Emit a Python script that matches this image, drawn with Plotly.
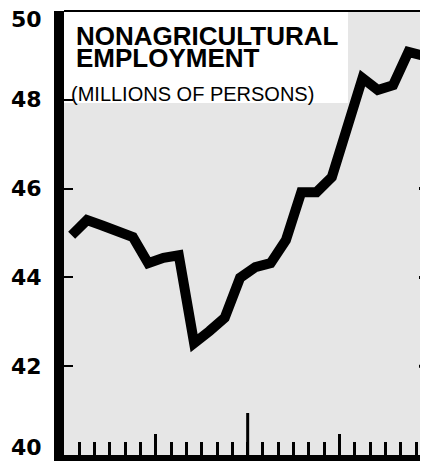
import plotly.graph_objects as go

# Nonagricultural employment, millions of persons, 24 monthly readings
months = list(range(24))
employment = [44.95, 45.29, 45.17, 45.05, 44.91, 44.32, 44.44, 44.50,
              42.52, 42.79, 43.09, 43.99, 44.23, 44.32, 44.84, 45.92,
              45.92, 46.26, 47.36, 48.49, 48.22, 48.33, 49.08, 48.99]

y_ticks = [40, 42, 44, 46, 48, 50]
y_labels = ["40", "42", "44", "46", "48", "50"]
right_ticks = [42, 44, 46]
month_bounds = [m + 0.5 for m in months[:-1]]
half_year_marks = [5.5, 17.5]
year_mark = 11.5

# the page body keeps its default 8px margin, so the figure is shrunk by that
OFF = 8
W, H = 428 - OFF, 462 - OFF
M = dict(l=64 - OFF, r=0, t=11 - OFF, b=7)
PW, PH = W - M["l"] - M["r"], H - M["t"] - M["b"]


def px_x(x):
    # page pixel -> paper fraction
    return (x - OFF - M["l"]) / PW


def px_y(y):
    return 1 - (y - OFF - M["t"]) / PH


fig = go.Figure()

fig.add_trace(go.Scatter(
    x=months, y=employment,
    mode="lines",
    line=dict(color="black", width=10),
    hoverinfo="skip", showlegend=False,
))

# white box behind the title
fig.add_shape(type="rect", xref="paper", yref="paper",
              x0=0, x1=px_x(348), y0=px_y(103), y1=1,
              fillcolor="white", line_width=0, layer="below")
# thin top frame
fig.add_shape(type="line", xref="paper", yref="paper",
              x0=0, x1=1, y0=1, y1=1, line=dict(color="black", width=2))
# tall year tick on the bottom axis
fig.add_shape(type="line", xref="x", yref="paper",
              x0=year_mark, x1=year_mark, y0=0, y1=42 / PH,
              line=dict(color="black", width=3))
# short ticks along the right edge
for v in right_ticks:
    fig.add_shape(type="line", xref="paper", yref="y",
                  x0=1 - 9 / PW, x1=1, y0=v, y1=v,
                  line=dict(color="black", width=3))

# y labels (the end ones sit a little inside the frame)
label_shift = {40: 8, 50: -8}
for v, t in zip(y_ticks, y_labels):
    fig.add_annotation(text=t, xref="paper", yref="y", x=px_x(44), y=v,
                       xanchor="right", yanchor="middle", showarrow=False,
                       yshift=label_shift.get(v, 0),
                       font=dict(family="DejaVu Sans", size=22, color="black",
                                 weight="bold"))

title_font = "Liberation Sans"
fig.add_annotation(text="<b>NONAGRICULTURAL</b>", xref="paper", yref="paper",
                   x=px_x(74), y=px_y(19), xanchor="left", yanchor="top",
                   showarrow=False, font=dict(family=title_font, size=26, color="black"))
fig.add_annotation(text="<b>EMPLOYMENT</b>", xref="paper", yref="paper",
                   x=px_x(74), y=px_y(41), xanchor="left", yanchor="top",
                   showarrow=False, font=dict(family=title_font, size=26, color="black"))
fig.add_annotation(text="(MILLIONS OF PERSONS)", xref="paper", yref="paper",
                   x=px_x(69), y=px_y(81), xanchor="left", yanchor="top",
                   showarrow=False, font=dict(family=title_font, size=20, color="black"))

fig.update_layout(
    width=W, height=H,
    margin=M,
    paper_bgcolor="white",
    plot_bgcolor="#e6e6e6",
    showlegend=False,
    xaxis=dict(
        range=[-0.5, 23.28], showgrid=False, zeroline=False, automargin=False,
        showline=True, linewidth=6, linecolor="black",
        ticks="inside", tickvals=half_year_marks, ticklen=21, tickwidth=3,
        tickcolor="black", showticklabels=False,
        minor=dict(tickmode="array", tickvals=month_bounds, ticks="inside",
                   ticklen=13, tickwidth=3, tickcolor="black"),
    ),
    yaxis=dict(
        range=[40, 50], showgrid=False, zeroline=False, automargin=False,
        showline=True, linewidth=10, linecolor="black",
        ticks="inside", tickvals=y_ticks, showticklabels=False,
        ticklen=9, tickwidth=2, tickcolor="black",
    ),
)

fig.write_html("out.html")
